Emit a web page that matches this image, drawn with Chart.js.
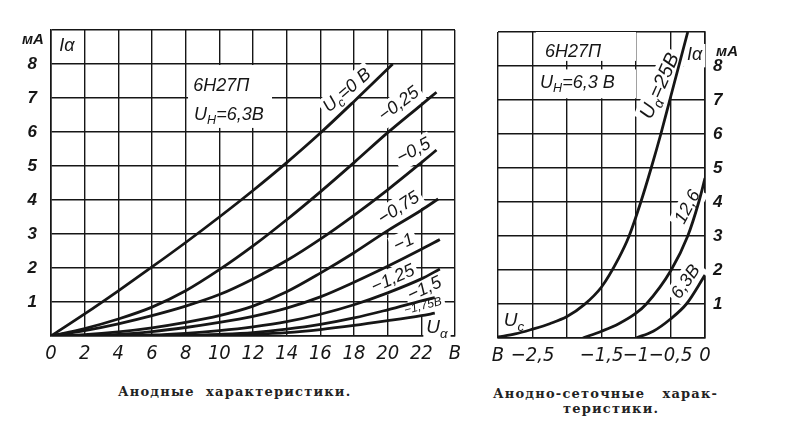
<!DOCTYPE html>
<html>
<head>
<meta charset="utf-8">
<script src="https://cdn.jsdelivr.net/npm/chart.js@4.4.0/dist/chart.umd.min.js"></script>
<style>
body{margin:0;background:#fff;width:789px;height:440px;position:relative;overflow:hidden}
canvas{position:absolute}
#anode{left:0;top:0}
#grid{left:480px;top:0}
.cap{position:absolute;font-family:'DejaVu Serif','Liberation Serif',serif;font-weight:bold;font-size:13px;color:#222;letter-spacing:1.2px;white-space:pre}
</style>
</head>
<body>
<canvas id="anode" width="470" height="370"></canvas>
<canvas id="grid" width="300" height="370"></canvas>
<div class="cap" style="left:118px;top:384px">Анодные  характеристики.</div>
<div class="cap" style="left:493px;top:386px">Анодно-сеточные   харак-</div>
<div class="cap" style="left:563px;top:401px">теристики.</div>
<script>
// --- данные: анодные характеристики Ia(Ua), кривые по Uc ---
const anodeTickLabels   = ['0','2','4','6','8','10','12','14','16','18','20','22','В'];
const currentTickLabels = ['','1','2','3','4','5','6','7','8',''];
const biasLabels = ['Uc=0 В','-0,25','-0,5','-0,75','-1','-1,25','-1,5','-1,75 В'];

const uc0   = [[0,0],[2,0.65],[4,1.33],[6,2.03],[8,2.75],[10,3.5],[12,4.28],[14,5.1],[16,5.97],[18,6.9],[20.3,8]];
const uc025 = [[0,0],[2,0.22],[4,0.5],[6,0.85],[8,1.33],[10,1.95],[12,2.65],[14,3.42],[16,4.24],[18,5.1],[20,5.98],[22,6.8],[22.9,7.17]];
const uc05  = [[0,0],[2,0.16],[4,0.36],[6,0.6],[8,0.88],[10,1.22],[12,1.68],[14,2.22],[16,2.85],[18,3.55],[20,4.3],[22,5.1],[22.9,5.47]];
const uc075 = [[0,0],[2,0.04],[4,0.12],[6,0.24],[8,0.4],[10,0.6],[12,0.88],[14,1.3],[16,1.85],[18,2.45],[20,3.1],[22,3.7],[23,4.03]];
const uc1   = [[0,0],[4,0.05],[6,0.13],[8,0.25],[10,0.4],[12,0.58],[14,0.82],[16,1.15],[18,1.58],[20,2.05],[22,2.55],[23.1,2.84]];
const uc125 = [[0,0],[6,0.03],[8,0.08],[10,0.16],[12,0.27],[14,0.42],[16,0.64],[18,0.92],[20,1.27],[22,1.68],[23.1,1.97]];
const uc15  = [[0,0],[8,0.02],[10,0.05],[12,0.1],[14,0.2],[16,0.34],[18,0.53],[20,0.77],[22,1.03],[22.8,1.13]];
const uc175 = [[0,0],[10,0.02],[12,0.05],[14,0.1],[16,0.19],[18,0.31],[20,0.45],[22,0.6],[22.8,0.67]];

// --- данные: анодно-сеточные характеристики Ia(Uc), кривые по Ua ---
const gridTickLabels = ['В','−2,5','','−1,5','−1','−0,5','0'];
const plateLabels = ['Ua=25 В','12,6','6,3 В'];
const ua25  = [[-3,0.03],[-2.75,0.12],[-2.5,0.26],[-2.25,0.42],[-2,0.63],[-1.75,0.98],[-1.5,1.5],[-1.25,2.35],[-1.1,3],[-0.93,4],[-0.78,5],[-0.64,6],[-0.51,7],[-0.38,8],[-0.25,9]];
const ua126 = [[-1.77,0],[-1.5,0.2],[-1.25,0.42],[-1,0.73],[-0.85,1],[-0.49,2],[-0.25,3],[-0.09,4],[0,4.7]];
const ua63  = [[-1,0],[-0.75,0.2],[-0.5,0.56],[-0.27,1],[0,1.85]];

const INK = '#161616';
const NARROW = "'Liberation Sans Narrow','DejaVu Sans Condensed','Liberation Sans',sans-serif";
const ITAL = "'Liberation Sans','DejaVu Sans',sans-serif";

function toPts(arr){ return arr.map(p => ({x:p[0], y:p[1]})); }

function curve(label, arr){
    return {
        label: label,
        data: toPts(arr),
        showLine: true,
        borderColor: INK,
        borderWidth: 2.8,
        pointRadius: 0,
        cubicInterpolationMode: 'monotone'
    };
}

// текст с нижними индексами, можно повернуть
function drawRich(ctx, parts, cx, cy, ang, size, align, bg, weight){
    ctx.save();
    ctx.translate(cx, cy);
    ctx.rotate(ang * Math.PI / 180);
    const f = p => 'italic ' + weight + ' ' + (p[1] ? size*0.7 : size) + 'px ' + ITAL;
    let w = 0;
    for (let p of parts){
        ctx.font = f(p);
        w += ctx.measureText(p[0]).width;
    }
    let x = align == 'left' ? 0 : -w/2;
    if (bg){
        ctx.fillStyle = '#fff';
        ctx.fillRect(x - 3, -size*0.62, w + 6, size*1.3);
    }
    ctx.fillStyle = INK;
    ctx.textBaseline = 'middle';
    ctx.textAlign = 'left';
    for (let p of parts){
        ctx.font = f(p);
        ctx.fillText(p[0], x, p[1] ? size*0.32 : 0);
        x += ctx.measureText(p[0]).width;
    }
    ctx.restore();
}

function notesPlugin(boxes, items){
    return {
        id: 'notes',
        beforeDatasetsDraw(chart){
            const ctx = chart.ctx, xs = chart.scales.x, ys = chart.scales.y;
            ctx.save();
            ctx.fillStyle = '#fff';
            for (let b of boxes){
                const x0 = xs.getPixelForValue(b[0]), x1 = xs.getPixelForValue(b[1]);
                const y0 = ys.getPixelForValue(b[2]), y1 = ys.getPixelForValue(b[3]);
                ctx.fillRect(x0, y0, x1 - x0, y1 - y0);
            }
            ctx.restore();
            for (let n of items){
                drawRich(ctx, n.parts, xs.getPixelForValue(n.x), ys.getPixelForValue(n.y),
                         n.a || 0, n.size || 17, n.align || 'center', n.bg !== false, n.w || 'normal');
            }
        }
    };
}

function gridOpts(){
    return { color: INK, lineWidth: 1.4, drawTicks: false };
}

// ---------- анодные характеристики ----------
new Chart(document.getElementById('anode'), {
    type: 'scatter',
    data: {
        datasets: [
            curve(biasLabels[0], uc0), curve(biasLabels[1], uc025), curve(biasLabels[2], uc05),
            curve(biasLabels[3], uc075), curve(biasLabels[4], uc1), curve(biasLabels[5], uc125),
            curve(biasLabels[6], uc15), curve(biasLabels[7], uc175)
        ]
    },
    options: {
        responsive: false,
        animation: false,
        devicePixelRatio: 1,
        layout: { padding: { top: 30, right: 15, left: 0, bottom: 0 } },
        plugins: { legend: { display: false }, tooltip: { enabled: false } },
        scales: {
            x: {
                type: 'linear', min: 0, max: 24,
                grid: gridOpts(),
                border: { color: INK, width: 1.6 },
                ticks: {
                    stepSize: 2, autoSkip: false, maxRotation: 0, padding: 6, color: INK,
                    font: { family: NARROW, size: 20, style: 'italic' },
                    callback: (v, i) => anodeTickLabels[i]
                },
                afterFit: s => { s.height = 34; }
            },
            y: {
                type: 'linear', min: 0, max: 9,
                grid: gridOpts(),
                border: { color: INK, width: 1.6 },
                ticks: {
                    stepSize: 1, autoSkip: false, padding: 14, color: INK,
                    font: { family: ITAL, size: 17, style: 'italic', weight: 'bold' },
                    callback: (v, i) => currentTickLabels[i]
                },
                afterFit: s => { s.width = 51; }
            }
        }
    },
    plugins: [notesPlugin(
        [[8.14, 13.13, 7.97, 6.12]],
        [
            {parts:[['6Н27П',0]], x:8.45, y:7.35, align:'left', bg:false, size:18},
            {parts:[['U',0],['Н',1],['=6,3В',0]], x:8.5, y:6.5, align:'left', bg:false, size:18},
            {parts:[['мА',0]], x:-1.07, y:8.7, size:15, bg:false, w:'bold'},
            {parts:[['Iα',0]], x:0.95, y:8.53, size:18},
            {parts:[['U',0],['c',1],['=0 В',0]], x:17.6, y:7.22, a:-41, size:18},
            {parts:[['−0,25',0]], x:20.67, y:6.82, a:-37, size:18},
            {parts:[['−0,5',0]], x:21.56, y:5.44, a:-28, size:18},
            {parts:[['−0,75',0]], x:20.67, y:3.76, a:-33, size:18},
            {parts:[['−1',0]], x:20.97, y:2.74, a:-25, size:18},
            {parts:[['−1,25',0]], x:20.32, y:1.68, a:-24, size:18},
            {parts:[['−1,5',0]], x:22.2, y:1.38, a:-25, size:18},
            {parts:[['−1,75В',0]], x:22.1, y:0.88, a:-15, size:12},
            {parts:[['U',0],['α',1]], x:22.93, y:0.24, size:19}
        ]
    )]
});

// ---------- анодно-сеточные характеристики ----------
new Chart(document.getElementById('grid'), {
    type: 'scatter',
    data: {
        datasets: [
            curve(plateLabels[0], ua25), curve(plateLabels[1], ua126), curve(plateLabels[2], ua63)
        ]
    },
    options: {
        responsive: false,
        animation: false,
        devicePixelRatio: 1,
        layout: { padding: { top: 32, right: 0, left: 18, bottom: 0 } },
        plugins: { legend: { display: false }, tooltip: { enabled: false } },
        scales: {
            x: {
                type: 'linear', min: -3, max: 0,
                grid: gridOpts(),
                border: { color: INK, width: 1.6 },
                ticks: {
                    stepSize: 0.5, autoSkip: false, maxRotation: 0, padding: 6, color: INK,
                    font: { family: NARROW, size: 20, style: 'italic' },
                    callback: (v, i) => gridTickLabels[i]
                },
                afterFit: s => { s.height = 32; }
            },
            y: {
                type: 'linear', min: 0, max: 9, position: 'right',
                grid: gridOpts(),
                border: { color: INK, width: 1.6 },
                ticks: {
                    stepSize: 1, autoSkip: false, padding: 8, color: INK,
                    font: { family: ITAL, size: 17, style: 'italic', weight: 'bold' },
                    callback: (v, i) => currentTickLabels[i]
                },
                afterFit: s => { s.width = 75; }
            }
        }
    },
    plugins: [notesPlugin(
        [[-2.45, -1.0, 9, 8.15], [-2.45, -1.0, 7.9, 7.05]],
        [
            {parts:[['6Н27П',0]], x:-2.32, y:8.41, align:'left', bg:false, size:18},
            {parts:[['U',0],['Н',1],['=6,3 В',0]], x:-2.39, y:7.5, align:'left', bg:false, size:18},
            {parts:[['мА',0]], x:0.32, y:8.41, size:15, bg:false, w:'bold'},
            {parts:[['Iα',0]], x:-0.15, y:8.32, size:18},
            {parts:[['U',0],['α',1],['=25В',0]], x:-0.65, y:7.41, a:-66, size:20},
            {parts:[['12,6',0]], x:-0.25, y:3.85, a:-62, size:18},
            {parts:[['6,3В',0]], x:-0.275, y:1.65, a:-55, size:18},
            {parts:[['U',0],['c',1]], x:-2.77, y:0.5, size:19}
        ]
    )]
});
</script>
</body>
</html>
